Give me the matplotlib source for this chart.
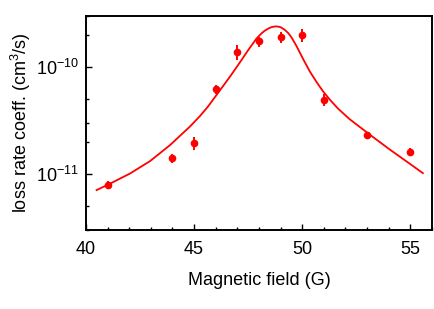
import matplotlib
matplotlib.use('Agg')
import matplotlib.pyplot as plt
from matplotlib.ticker import LogLocator, NullFormatter, MultipleLocator

plt.rcParams['font.family'] = ['Liberation Sans', 'DejaVu Sans']
plt.rcParams['mathtext.fontset'] = 'custom'
plt.rcParams['mathtext.rm'] = 'Liberation Sans'
plt.rcParams['mathtext.default'] = 'regular'

# measured loss rate coefficients
field = [41, 44, 45, 46, 47, 48, 49, 50, 51, 53, 55]
rate = [7.9e-12, 1.41e-11, 1.94e-11, 6.25e-11, 1.38e-10, 1.74e-10,
        1.90e-10, 1.98e-10, 4.95e-11, 2.30e-11, 1.60e-11]
rate_err = [0.7e-12, 0.13e-11, 0.27e-11, 0.6e-11, 0.22e-10, 0.19e-10,
            0.23e-10, 0.28e-10, 0.65e-11, 0.18e-11, 0.14e-11]

# fitted resonance curve
fit_field = [40.49, 41.11, 42.03, 42.96, 43.88, 44.80, 45.28, 45.64, 46.19,
             46.65, 47.11, 47.48, 47.88, 48.10, 48.27, 48.50, 48.65, 48.81,
             49.00, 49.19, 49.35, 49.50, 49.73, 50.04, 50.35, 50.66, 50.96,
             51.27, 51.65, 52.19, 53.12, 54.04, 54.97, 55.58]
fit_rate = [7.08e-12, 8.13e-12, 1.01e-11, 1.32e-11, 1.86e-11, 2.77e-11,
            3.50e-11, 4.27e-11, 6.04e-11, 8.09e-11, 1.10e-10, 1.42e-10,
            1.84e-10, 2.05e-10, 2.19e-10, 2.33e-10, 2.38e-10, 2.40e-10,
            2.36e-10, 2.23e-10, 2.08e-10, 1.90e-10, 1.58e-10, 1.19e-10,
            9.1e-11, 7.26e-11, 5.94e-11, 4.98e-11, 4.10e-11, 3.26e-11,
            2.34e-11, 1.70e-11, 1.25e-11, 1.02e-11]

fig = plt.figure(figsize=(4.35, 3.09), dpi=100)
ax = fig.add_axes([0.1977, 0.2557, 0.7953, 0.6925])

ax.plot(fit_field, fit_rate, color='red', lw=1.3)
ax.errorbar(field, rate, yerr=rate_err, fmt='o', color='red', ms=4.5,
            elinewidth=1.4, capsize=0)

ax.set_yscale('log')
ax.set_xlim(40, 56)
ax.set_ylim(3e-12, 3e-10)
ax.xaxis.set_major_locator(MultipleLocator(5))
ax.xaxis.set_minor_locator(MultipleLocator(1))
ax.yaxis.set_minor_locator(LogLocator(base=10, subs=[2, 3, 5]))
ax.yaxis.set_minor_formatter(NullFormatter())

ax.tick_params(which='both', direction='in', labelsize=13, width=1)
ax.tick_params(which='major', length=4)
ax.tick_params(which='minor', length=2)
ax.tick_params(axis='x', pad=8)
ax.tick_params(axis='y', pad=5)
for s in ax.spines.values():
    s.set_linewidth(1.4)

ax.set_xlabel('Magnetic field (G)', fontsize=13, labelpad=10)
ax.set_ylabel('loss rate coeff. (cm$^3$/s)', fontsize=13, labelpad=2)

fig.savefig('out.png', dpi=100)
